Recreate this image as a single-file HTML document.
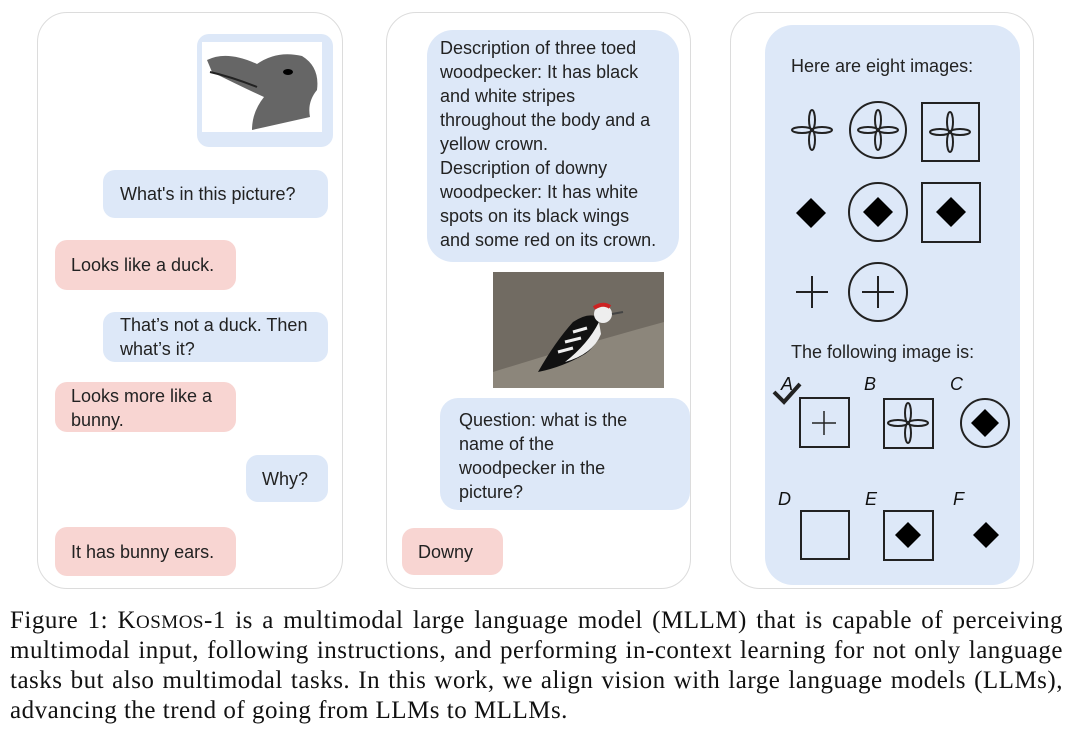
<!DOCTYPE html>
<html><head><meta charset="utf-8"><style>
body{margin:0;width:1080px;height:731px;background:#fff;position:relative;overflow:hidden;font-family:"Liberation Sans",sans-serif;}
.p{position:absolute;border:1.5px solid #dcdcdc;border-radius:30px;background:#fff;}
.b{position:absolute;border-radius:12px;font-size:18px;color:#222;line-height:24px;box-sizing:border-box;white-space:nowrap}
.bl{background:#dde8f8}.pk{background:#f8d5d2}
.t{position:absolute;font-size:18px;color:#222;line-height:24px;white-space:nowrap}
.cap{position:absolute;left:10px;width:1053px;font-family:"Liberation Serif",serif;font-size:25px;letter-spacing:0.5px;color:#111;text-align:justify;text-align-last:justify;white-space:nowrap;line-height:30px}
.L{position:absolute;font-style:italic;font-size:18px;color:#111}
</style></head><body>
<div class="p" style="left:37px;top:12px;width:304px;height:575px"></div>
<div class="p" style="left:386px;top:12px;width:303px;height:575px"></div>
<div class="p" style="left:730px;top:12px;width:302px;height:575px"></div>

<!-- left panel -->
<div class="b bl" style="left:197px;top:34px;width:136px;height:113px"></div>
<svg style="position:absolute;left:202px;top:42px" width="120" height="90"><rect width="120" height="90" fill="#fff"/>
<path d="M5 18 Q25 8 55 22 Q75 8 100 14 Q118 25 115 48 Q105 60 108 75 L50 88 Q50 70 62 55 Q40 45 10 30 Z" fill="#666"/><path d="M8 30 Q30 35 55 45" stroke="#222" stroke-width="2" fill="none"/><ellipse cx="86" cy="30" rx="5" ry="3" fill="#000"/></svg>
<div class="b bl" style="left:103px;top:170px;width:225px;height:48px;padding:12px 0 0 17px">What's in this picture?</div>
<div class="b pk" style="left:55px;top:240px;width:181px;height:50px;padding:13px 0 0 16px">Looks like a duck.</div>
<div class="b bl" style="left:103px;top:312px;width:225px;height:50px;padding:1px 0 0 17px">That’s not a duck. Then<br>what’s it?</div>
<div class="b pk" style="left:55px;top:382px;width:181px;height:50px;padding:2px 0 0 16px">Looks more like a<br>bunny.</div>
<div class="b bl" style="left:246px;top:455px;width:82px;height:47px;padding:12px 0 0 16px">Why?</div>
<div class="b pk" style="left:55px;top:527px;width:181px;height:49px;padding:13px 0 0 16px">It has bunny ears.</div>

<!-- middle panel -->
<div class="b bl" style="left:427px;top:30px;width:252px;height:232px;border-radius:26px;padding:6px 0 0 13px">Description of three toed<br>woodpecker: It has black<br>and white stripes<br>throughout the body and a<br>yellow crown.<br>Description of downy<br>woodpecker: It has white<br>spots on its black wings<br>and some red on its crown.</div>
<svg style="position:absolute;left:493px;top:272px" width="171" height="116"><rect width="171" height="116" fill="#716b62"/>
<path d="M0 100 Q80 75 171 50 L171 116 L0 116Z" fill="#8c867b"/>
<path d="M45 100 Q62 70 80 50 Q95 40 105 45 Q110 70 92 82 Q70 95 45 100Z" fill="#111"/>
<path d="M72 90 Q100 82 108 62 L106 50 Q95 72 72 90Z" fill="#eee"/>
<path d="M65 80 L80 76 M72 70 L88 66 M80 60 L94 56" stroke="#eee" stroke-width="3"/>
<circle cx="110" cy="42" r="9" fill="#eee"/><path d="M101 36 Q110 30 117 35" stroke="#c22" stroke-width="4" fill="none"/><path d="M119 42 L130 40" stroke="#444" stroke-width="2"/></svg>
<div class="b bl" style="left:440px;top:398px;width:250px;height:112px;border-radius:18px;padding:10px 0 0 19px">Question: what is the<br>name of the<br>woodpecker in the<br>picture?</div>
<div class="b pk" style="left:402px;top:528px;width:101px;height:47px;padding:12px 0 0 16px">Downy</div>

<!-- right panel -->
<div class="b bl" style="left:765px;top:25px;width:255px;height:560px;border-radius:28px"></div>
<div class="t" style="left:791px;top:54px">Here are eight images:</div>
<div class="t" style="left:791px;top:340px">The following image is:</div>
<svg style="position:absolute;left:0;top:0" width="1080" height="600" fill="none" stroke="#222" stroke-width="2">
<defs><g id="fl"><ellipse cx="0" cy="-10" rx="3" ry="10"/><ellipse cx="0" cy="10" rx="3" ry="10"/><ellipse cx="-10" cy="0" rx="10" ry="3"/><ellipse cx="10" cy="0" rx="10" ry="3"/></g>
<path id="dm" d="M0 -15 L15 0 L0 15 L-15 0Z" fill="#000" stroke="none"/>
<g id="pl"><path d="M-16 0H16M0 -16V16"/></g></defs>
<use href="#fl" x="812" y="130"/><circle cx="878" cy="130" r="28"/><use href="#fl" x="878" y="130"/>
<rect x="922" y="103" width="57" height="58"/><use href="#fl" x="950" y="132"/>
<use href="#dm" x="811" y="213"/><circle cx="878" cy="212" r="29"/><use href="#dm" x="878" y="212"/>
<rect x="922" y="183" width="58" height="59"/><use href="#dm" x="951" y="212"/>
<use href="#pl" x="812" y="292"/><circle cx="878" cy="292" r="29"/><use href="#pl" x="878" y="292"/>
<rect x="800" y="398" width="49" height="49"/><path d="M812 423H836M824 411V435" stroke-width="1.5"/>
<rect x="884" y="399" width="49" height="49"/><use href="#fl" x="908" y="423"/>
<circle cx="985" cy="423" r="24"/><path d="M985 409 L999 423 L985 437 L971 423Z" fill="#000" stroke="none"/>
<rect x="801" y="511" width="48" height="48"/>
<rect x="884" y="511" width="49" height="49"/><path d="M908 522 L921 535 L908 548 L895 535Z" fill="#000" stroke="none"/>
<path d="M986 522 L999 535 L986 548 L973 535Z" fill="#000" stroke="none"/>
<path d="M774 392 L784 402 L800 384" stroke-width="4"/>
</svg>
<div class="L" style="left:781px;top:374px">A</div>
<div class="L" style="left:864px;top:374px">B</div>
<div class="L" style="left:950px;top:374px">C</div>
<div class="L" style="left:778px;top:489px">D</div>
<div class="L" style="left:865px;top:489px">E</div>
<div class="L" style="left:953px;top:489px">F</div>

<div class="cap" style="top:606px">Figure 1: K<span style="font-size:19px">OSMOS</span>-1 is a multimodal large language model (MLLM) that is capable of perceiving</div>
<div class="cap" style="top:636px">multimodal input, following instructions, and performing in-context learning for not only language</div>
<div class="cap" style="top:666px">tasks but also multimodal tasks. In this work, we align vision with large language models (LLMs),</div>
<div class="cap" style="top:696px;width:auto;text-align-last:auto">advancing the trend of going from LLMs to MLLMs.</div>
</body></html>
